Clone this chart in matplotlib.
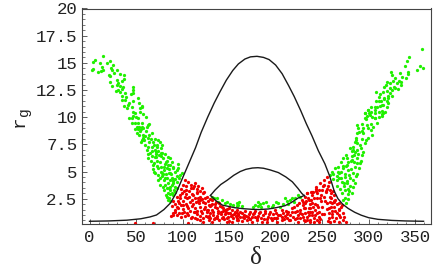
#!/usr/bin/env python3
"""Scatter of r_g against delta with the two bounding curves."""

import matplotlib

matplotlib.use("Agg")
import matplotlib.pyplot as plt

# outer bell curve
outer_x = [0, 20, 40, 55, 65, 72, 80, 87, 93, 100, 107, 114, 120, 127, 134, 140, 147, 154, 160, 167, 173, 180,
           187, 193, 200, 207, 214, 220, 227, 233, 239, 246, 253, 258, 263, 267, 272, 278, 285, 292, 300, 310, 325, 340, 359]
outer_y = [0.42, 0.45, 0.52, 0.65, 0.82, 1.0, 1.5, 2.1, 3.0, 4.4, 5.8, 7.2, 8.6, 10.0, 11.3, 12.3, 13.4, 14.3, 14.9, 15.35, 15.55, 15.6,
           15.5, 15.3, 14.8, 14.0, 12.9, 11.9, 10.6, 9.4, 8.3, 6.9, 5.7, 4.6, 3.2, 2.5, 2.0, 1.6, 1.25, 0.98, 0.75, 0.6, 0.5, 0.45, 0.42]

# inner lens, upper and lower arcs
lens_up_x = [130, 135, 141, 148, 155, 162, 168, 175, 181, 187, 194, 203, 211, 218, 224, 228, 231]
lens_up_y = [2.8, 3.3, 3.8, 4.2, 4.65, 5.0, 5.2, 5.32, 5.35, 5.3, 5.15, 4.9, 4.5, 4.05, 3.45, 3.0, 2.75]
lens_lo_x = [130, 136, 143, 150, 156, 165, 175, 183, 192, 201, 210, 217, 224, 231]
lens_lo_y = [2.8, 2.3, 1.9, 1.78, 1.67, 1.58, 1.52, 1.5, 1.55, 1.68, 1.85, 2.15, 2.55, 2.8]

green_x = [14.9, 5.9, 4.1, 11.3, 18.4, 22, 25.6, 13.8, 23.1, 4.1, 2.3, 9.5, 12.3, 14.9, 24.5, 29.2, 26.3, 32.7, 37.4, 20.9,
           21.7, 37.4, 34.5, 22, 29.9, 31, 29.9, 24.5, 32.7, 36.3, 28.1, 30.2, 32.7, 35.2, 47.1, 46.4, 38.1, 44.6, 47.1, 34.5,
           38.8, 52.4, 35.3, 38.1, 46.4, 42.4, 53.5, 37.4, 39.9, 41.7, 45.3, 56.7, 54.2, 56.7, 47.1, 48.9, 54.2, 57.8, 47.1, 49.6,
           60.7, 42.4, 46, 52.4, 45.3, 48.9, 52.4, 56, 63.9, 63.2, 50.6, 53.2, 56, 48.9, 52.4, 55.3,
           # lower left
           54.3, 50.7, 56.1, 66.1, 64, 68.6, 74, 75.8, 59.7, 62.5, 66.8, 72.2, 76.9, 78.3, 70.4, 74, 65, 67.6, 63.3, 66.1,
           71.1, 78.3, 81.2, 84, 86.5, 79.4, 83, 88.3, 84.7, 81.2, 75.8, 69.7, 72.2, 74, 68.6, 70.4, 73.3, 76.9, 80.4, 83,
           90.1, 94.8, 95.5, 91.9, 86.5, 81.9, 78.3, 74, 75.8, 80.4, 83, 88.3, 93.7, 99.1, 97.3, 90.1, 84.7, 81.2, 83, 88.3,
           93.7, 91.9, 86.5, 80.4, 88.3, 84, 91.2, 85.8, 84.7, 87, 77, 72, 69, 80, 85, 90, 92, 86, 82, 78,
           58, 61, 60, 64, 57, 67, 58, 63, 70, 53, 62, 69, 73, 55, 59, 62, 67, 72, 77, 70,
           75, 63, 68, 73, 77, 82, 86, 90, 79, 85, 88, 94, 76, 81, 86, 92, 96, 79, 85, 90, 94, 87, 83, 90,
           # centre, inside the lens
           131.3, 133.8, 136.7, 138.4, 142, 145.6, 147.4, 151, 154.6, 158.9, 158.3, 160.8, 160, 163.7, 176.2, 178, 180.8, 183.4, 184.4, 186.9,
           189.4, 192.3, 197.7, 200.2, 203, 204.8, 210.2, 212, 215.6, 218.1, 220.9, 224.5, 226.3, 195.9, 181.6, 213.8, 208.4, 220.2,
           # lower right
           306.9, 314, 299.7, 296.1, 315.8, 301.5, 306.9, 308.7, 292.6, 297.9, 305.1, 289, 287.2, 294.3, 303.3, 299.7, 292.6, 285.4, 282.9, 290.8,
           296.1, 280, 285.4, 294.3, 292.6, 275.7, 281.8, 272.9, 287.2, 270, 278.2, 290.8, 267.5, 272.9, 285.4, 263.9, 290, 278.2, 260.3, 270,
           283.6, 258.5, 265.7, 274.6, 280, 262.1, 271.1, 283.6, 276.4, 265.7, 280, 269.3, 274.6, 283.6, 271.1, 278.2, 274.6, 278.2, 275.7, 272.9,
           268, 276, 282, 288, 277, 284, 273, 279, 286, 293, 268, 282, 289,
           262, 267, 272, 277, 281, 275, 279, 286, 266, 270, 274, 278, 282, 285, 288, 277, 281, 284, 288, 292,
           283, 288, 292, 297, 286, 290, 294, 299, 302, 297, 302, 304, 288, 309, 312, 303, 316, 311, 320, 325, 315, 326, 330, 335,
           # upper right
           357.1, 343.5, 341.7, 339.2, 355.3, 358.2, 351.7, 342.8, 342.1, 324.2, 324.9, 333.8, 335.6, 340.3, 328.5, 332.8, 334.9, 319.5, 323.1, 318.4,
           317, 327.7, 331.3, 323.1, 328.5, 308, 312.4, 323.1, 321.3, 325.6, 317, 321.3, 307.7, 310.6, 313.4, 319.5, 321.3, 315.9, 302.7, 319.5,
           299.8, 307, 314.2, 296.2, 300.5, 307, 311.3, 317.7, 314.2, 298, 306.3, 310.6, 314.2, 296.2]
green_y = [15.6, 15.26, 15.1, 15.0, 15.0, 15.2, 14.8, 14.65, 14.55, 14.4, 14.35, 14.2, 14.25, 14.3, 14.35, 14.35, 14.1, 14.0, 13.9, 13.9,
           13.75, 13.5, 13.35, 13.25, 13.4, 13.1, 12.95, 12.85, 12.85, 12.75, 12.45, 12.5, 12.35, 12.6, 12.75, 12.5, 12.25, 12.1, 12.2, 11.95,
           11.9, 11.8, 11.6, 11.6, 11.5, 11.35, 11.35, 11.0, 10.8, 11.1, 10.9, 11.0, 10.8, 10.9, 10.45, 10.35, 10.5, 10.3, 10.15, 10.05,
           10.05, 9.9, 9.9, 9.9, 9.5, 9.5, 9.5, 9.45, 9.4, 9.25, 9.05, 9.05, 9.05, 8.9, 8.9, 8.9,
           8.7, 8.5, 7.9, 8.0, 7.7, 7.75, 7.9, 7.7, 7.4, 7.3, 7.3, 7.4, 7.2, 7.4, 7.0, 6.9, 6.7, 6.45, 6.2, 6.0,
           6.35, 6.7, 6.6, 6.35, 6.2, 6.2, 6.0, 5.9, 5.6, 5.65, 5.85, 5.75, 5.55, 5.3, 5.25, 4.9, 4.7, 4.95, 5.1, 5.3,
           5.45, 5.65, 5.3, 4.95, 4.85, 4.75, 4.55, 4.2, 3.8, 4.2, 4.4, 4.4, 4.6, 4.9, 4.7, 4.1, 3.9, 3.75, 3.45, 3.75,
           4.05, 3.6, 3.3, 3.3, 3.0, 3.0, 3.3, 2.6, 2.4, 2.3, 6.4, 6.6, 5.0, 5.4, 4.9, 4.3, 3.1, 3.6, 2.8, 4.9,
           9.0, 8.7, 8.3, 8.4, 8.4, 8.5, 8.1, 8.1, 8.0, 8.4, 9.1, 7.4, 7.3, 7.7, 7.9, 7.0, 6.9, 6.8, 6.7, 6.3,
           6.5, 6.6, 5.6, 6.0, 5.4, 5.9, 5.6, 5.3, 4.8, 5.2, 4.8, 5.1, 4.4, 4.4, 4.2, 4.3, 4.4, 3.6, 3.5, 3.9, 3.5, 2.9, 2.7, 2.8,
           2.7, 2.55, 2.55, 2.2, 2.4, 2.07, 2.2, 1.98, 1.92, 1.85, 2.07, 2.17, 1.92, 1.86, 1.77, 1.92, 2.17, 1.98, 1.77, 2.07,
           2.17, 1.86, 1.92, 2.17, 2.07, 1.77, 2.53, 2.29, 2.38, 2.6, 2.53, 2.84, 2.69, 1.77, 1.86, 1.98, 1.98, 2.23,
           10.9, 11.1, 10.7, 10.4, 10.35, 10.2, 9.9, 9.5, 9.4, 9.3, 9.1, 9.0, 8.5, 8.5, 8.4, 8.05, 8.0, 7.75, 7.3, 7.45,
           7.6, 7.15, 6.8, 6.8, 6.5, 6.5, 6.4, 6.2, 6.2, 5.9, 5.9, 5.75, 5.45, 5.5, 5.45, 5.3, 5.3, 5.15, 5.0, 5.0,
           4.9, 4.7, 4.6, 4.5, 4.4, 4.3, 4.05, 4.2, 3.9, 3.65, 3.65, 3.35, 3.3, 3.55, 3.0, 2.9, 2.6, 2.44, 2.1, 2.4,
           4.9, 5.5, 6.9, 7.0, 4.1, 5.9, 3.7, 3.2, 7.9, 8.7, 4.4, 6.1, 6.6,
           4.8, 5.0, 5.3, 5.6, 5.2, 4.8, 4.7, 4.6, 4.2, 4.4, 3.9, 3.4, 3.0, 3.9, 4.8, 6.2, 6.0, 6.5, 5.8, 6.0,
           7.0, 7.6, 7.2, 7.9, 8.1, 8.6, 9.0, 9.0, 9.4, 9.8, 8.8, 10.0, 9.3, 10.9, 11.0, 10.5, 11.7, 11.9, 12.4, 12.5, 12.3, 13.3, 13.1, 13.0,
           16.25, 15.5, 15.2, 14.7, 14.75, 14.55, 14.3, 14.2, 14.0, 14.2, 13.9, 14.05, 13.7, 13.65, 13.65, 13.35, 13.25, 13.25, 13.15, 12.95,
           12.8, 12.8, 12.6, 12.65, 12.65, 12.3, 12.1, 12.2, 11.95, 11.98, 11.75, 11.75, 11.5, 11.45, 11.5, 11.45, 11.27, 11.1, 10.9, 10.97,
           10.7, 10.7, 10.6, 10.4, 10.35, 10.35, 10.5, 10.5, 10.3, 10.1, 9.9, 9.98, 10.1, 9.9]

red_x = [102.7, 106.2, 100.1, 103.7, 108.7, 113.4, 117, 120.6, 111.6, 98, 101.6, 107.3, 115.2, 122.3, 109.8, 97.3, 93.7, 102.7, 105.2, 118.8,
         124.1, 113.4, 90.1, 91.9, 88.3, 95.5, 100.1, 98, 103.7, 108, 111.6, 117, 121.6, 127.7, 131.3, 134.9, 129.5, 124.1, 118.8, 113.4,
         106.2, 100.9, 95.5, 91.9, 89.4, 93.7, 99.1, 104.4, 108.7, 106.2, 115.2, 120.6, 125.9, 131.3, 137.4, 142, 145.6, 138.4, 133.1, 127.7,
         118.8, 113.4, 122.3, 131.3, 136.7, 143.8, 149.2, 152.8, 156.4, 160, 154.6, 147.4, 160, 48.9, 68, 87.3, 90,
         158.3, 161.9, 167.2, 172.6, 178, 183.4, 188.7, 194.1, 199.5, 206.6, 160, 165.5, 170.8, 176.2, 181.6, 186.9, 192.3, 197.7, 203, 208.4,
         158.3, 163.7, 169, 174.4, 179.8, 185.1, 190.5, 195.9, 201.3, 206.6, 212, 213.8, 217.4, 222.7, 228.1, 231.7, 235.3, 239.6, 238.1, 233.5,
         229.9, 226.3, 220.9, 219.2, 224.5, 231.7, 237, 240.6, 235.3, 229.9, 224.5, 233.5, 238.8, 241.7,
         255.2, 251.7, 257, 248.1, 252.4, 243.8, 258.8, 255.2, 249.9, 239.1, 244.5, 233.8, 262.4, 258.1, 252.4, 248.1, 240.9, 235.5, 264.2, 267.8,
         260.6, 255.2, 244.5, 239.1, 232, 271.4, 263.1, 257, 242.7, 246.3, 237.3, 230.2, 260.6, 266, 257, 242.7, 246.3, 235.5, 226.6, 260.6,
         257, 267.8, 244.5, 237.3, 262.4, 258.8, 267.8, 272.4, 276, 246.3, 232,
         # extra fill of the dense parts
         96, 104, 110, 116, 126, 131, 139, 148, 153, 165, 172, 178, 191, 200, 210, 215, 223, 249, 254, 243, 237, 250, 263, 268, 112, 119, 128, 135, 141, 150,
         92, 94, 96, 97, 98, 99, 101, 102, 103, 104, 105, 106, 107, 108, 109, 110, 110, 111, 112, 113, 114, 115, 116, 116, 117, 118, 119, 119, 120, 121,
         122, 123, 123, 124, 125, 126, 127, 128, 128, 129, 130, 130, 132, 133, 134, 135, 136, 137, 138, 139, 140, 141, 142, 143, 144, 145, 146, 147, 148, 149,
         150, 151, 152, 153, 155, 157, 158, 159, 162, 164, 166, 168, 171, 173, 175, 177, 180, 182, 184, 187, 189, 193, 195, 198, 200, 202, 205, 207, 209, 211,
         212, 214, 216, 218, 220, 221, 223, 225, 226, 228, 229, 230, 232, 233, 234, 236, 237, 238, 239, 240, 241, 242, 243, 244, 245, 246, 247, 248, 249, 250,
         251, 252, 253, 254, 255, 256, 256, 258, 259, 259, 260, 261, 262, 263, 264, 265, 266, 268, 269, 270, 272, 274]
red_y = [4.2, 4.0, 3.8, 3.7, 3.75, 3.9, 3.7, 3.45, 3.45, 3.4, 3.2, 3.2, 3.15, 3.0, 2.9, 2.85, 2.7, 2.7, 2.55, 2.7,
         2.55, 2.55, 2.25, 2.0, 1.85, 2.25, 2.3, 1.9, 2.0, 2.15, 2.05, 2.25, 2.15, 2.25, 2.4, 1.98, 1.85, 1.75, 1.7, 1.6,
         1.6, 1.55, 1.6, 1.45, 1.0, 1.0, 1.15, 1.15, 0.7, 0.23, 1.05, 1.15, 1.3, 1.45, 1.6, 1.7, 1.45, 1.15, 1.0, 0.85,
         0.55, 0.7, 0.4, 0.4, 0.7, 0.85, 1.15, 1.45, 1.3, 1.05, 0.7, 0.33, 0.55, 0.24, 0.24, 0.9, 1.15,
         1.45, 1.3, 1.37, 1.3, 1.37, 1.3, 1.37, 1.3, 1.45, 1.45, 1.0, 1.0, 0.85, 1.05, 0.95, 1.0, 0.85, 1.05, 1.0, 1.15,
         0.55, 0.45, 0.55, 0.4, 0.55, 0.4, 0.33, 0.55, 0.4, 0.55, 0.7, 1.3, 1.6, 1.9, 2.4, 2.7, 2.55, 2.85, 3.15, 3.0,
         1.9, 1.45, 1.3, 0.85, 1.0, 1.6, 2.05, 1.75, 1.3, 0.85, 0.4, 0.55, 1.0, 0.4,
         4.5, 4.2, 4.0, 3.9, 3.75, 3.6, 3.3, 3.4, 3.3, 3.15, 3.0, 3.0, 2.85, 2.7, 2.7, 2.55, 2.55, 2.4, 2.4, 2.07,
         2.07, 2.07, 1.92, 2.07, 2.07, 1.92, 1.77, 1.6, 1.46, 1.3, 1.6, 1.6, 1.37, 1.15, 1.15, 1.0, 0.85, 1.0, 1.15, 0.85,
         0.7, 1.0, 0.54, 0.54, 0.45, 0.33, 0.33, 0.54, 0.33, 0.33, 0.45,
         2.1, 2.9, 2.4, 3.0, 1.45, 1.9, 2.1, 0.7, 1.0, 0.8, 0.6, 0.85, 0.65, 0.75, 0.95, 0.5, 0.75, 2.3, 3.1, 3.2, 1.25, 1.1, 2.2, 1.55, 1.25, 2.35, 0.95, 0.75, 1.3, 1.65,
         1.3, 1.7, 1.2, 2.6, 0.8, 3.0, 1.9, 1.3, 0.9, 3.3, 1.8, 1.0, 2.7, 1.35, 3.5, 1.8, 0.85, 2.8, 3.7, 1.25, 2.2, 3.4, 1.4, 0.6, 2.6, 2.1, 3.2, 0.95, 1.4, 2.5,
         0.7, 3.1, 1.55, 2.1, 0.95, 2.7, 1.5, 1.9, 0.55, 2.5, 1.15, 0.75, 2.0, 1.3, 0.65, 1.7, 2.15, 0.95, 1.4, 0.5, 1.85, 1.1, 0.75, 1.35, 1.6, 0.6, 1.05, 1.3, 1.55, 0.85,
         0.45, 1.2, 0.95, 0.35, 1.05, 0.9, 1.15, 0.75, 0.85, 1.2, 0.75, 0.95, 1.1, 0.65, 0.85, 1.2, 0.75, 1.15, 0.7, 0.65, 1.15, 1.1, 0.75, 0.75, 1.2, 0.7, 1.0, 0.85, 0.65, 1.35,
         1.05, 0.55, 1.0, 1.25, 1.7, 0.6, 1.35, 2.1, 0.7, 1.1, 2.2, 0.55, 1.15, 2.3, 0.8, 1.65, 0.4, 2.4, 1.25, 3.1, 0.75, 2.0, 3.4, 1.2, 2.6, 1.7, 3.3, 0.6, 2.85, 1.75,
         3.7, 1.1, 2.3, 3.2, 1.55, 3.7, 0.45, 2.2, 1.75, 3.0, 2.6, 1.1, 3.2, 2.3, 1.4, 0.7, 2.05, 1.45, 0.8, 1.75, 1.2, 0.85]

x_ticks = [0, 50, 100, 150, 200, 250, 300, 350]
x_minor = [v for v in range(0, 361, 10)]
y_ticks = [2.5, 5, 7.5, 10, 12.5, 15, 17.5, 20]
y_tick_labels = ["2.5", "5", "7.5", "10", "12.5", "15", "17.5", "20"]
y_minor = [v * 0.5 for v in range(1, 41)]

fig = plt.figure(figsize=(4.37, 2.70), dpi=100)
ax = fig.add_axes([81.5 / 437, 1 - 224 / 270, (431 - 81.5) / 437, (224 - 8.5) / 270])

ax.scatter(green_x, green_y, s=5.5, color="#20f000", linewidths=0, zorder=2)
ax.scatter(red_x, red_y, s=5.5, color="#f00000", linewidths=0, zorder=2)
ax.plot(outer_x, outer_y, color="#1a1a1a", lw=1.0, zorder=3)
ax.plot(lens_up_x, lens_up_y, color="#1a1a1a", lw=1.0, zorder=3)
ax.plot(lens_lo_x, lens_lo_y, color="#1a1a1a", lw=1.0, zorder=3)

ax.set_xlim(-8.6, 367)
ax.set_ylim(0.17, 20)
ax.set_xticks(x_ticks)
ax.set_xticks(x_minor, minor=True)
ax.set_yticks(y_ticks)
ax.set_yticklabels(y_tick_labels)
ax.set_yticks(y_minor, minor=True)

for lab in ax.get_xticklabels() + ax.get_yticklabels():
    lab.set_fontfamily("Liberation Mono")
    lab.set_fontsize(12.5)
    lab.set_color("#222222")
ax.tick_params(which="major", direction="in", length=3.5, width=0.6, color="#444444", pad=3)
ax.tick_params(axis="x", which="major", pad=4.5)
ax.tick_params(which="minor", direction="in", length=1.8, width=0.5, color="#444444")
for s in ax.spines.values():
    s.set_linewidth(0.8)
    s.set_color("#444444")

fig.text(256 / 437, 1 - 258 / 270, "δ", family="Liberation Serif", fontsize=18, ha="center", va="center", color="#222222")
# r with a lowered g, both turned on their side
fig.text(19 / 437, 1 - 121 / 270, "r", family="Liberation Mono", fontsize=14, rotation=90, ha="center", va="center", color="#222222")
fig.text(24 / 437, 1 - 112 / 270, "g", family="Liberation Mono", fontsize=10.5, rotation=90, ha="center", va="center", color="#222222")

fig.savefig("out.png", dpi=100)
